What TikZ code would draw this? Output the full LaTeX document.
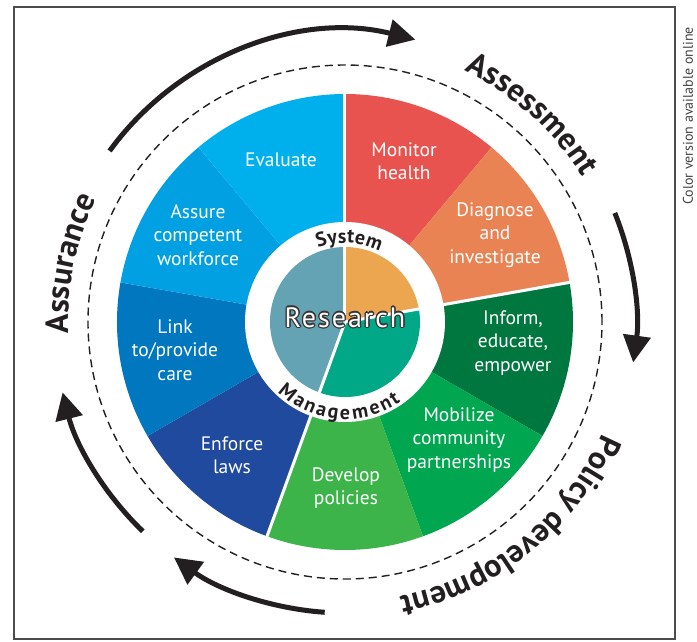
\documentclass[tikz,border=0pt]{standalone}
\usepackage{fontspec}
\setmainfont{PT Sans}
\usepackage{xcolor}
\usepackage{tikz}
\usepackage{contour}
\usetikzlibrary{arrows.meta}
\usetikzlibrary{decorations.text}

\contourlength{1.2pt}
\definecolor{monitorred}{HTML}{E8534F}
\definecolor{diagorange}{HTML}{EA8354}
\definecolor{informgreen}{HTML}{00773F}
\definecolor{mobilgreen}{HTML}{00A650}
\definecolor{devgreen}{HTML}{3CB44A}
\definecolor{enforceblue}{HTML}{1F4A9D}
\definecolor{linkblue}{HTML}{0077BF}
\definecolor{assureblue}{HTML}{00A0E2}
\definecolor{evalblue}{HTML}{00B0EC}
\definecolor{innerorange}{HTML}{ECA650}
\definecolor{innerteal}{HTML}{00A887}
\definecolor{innerslate}{HTML}{63A3B3}
\definecolor{inkblack}{HTML}{231F20}

\newcommand{\labelfont}{\fontsize{19.5}{23.5}\selectfont}
\newcommand{\arcfont}{\bfseries\fontsize{32}{32}\selectfont}
\newcommand{\ringfont}{\bfseries\fontsize{20}{20}\selectfont}

\begin{document}
\begin{tikzpicture}[x=1pt,y=1pt,
    seglabel/.style={text=white, align=center, font=\labelfont, inner sep=0pt},
    cycarrow/.style={inkblack, line width=5pt, -{Triangle[length=27pt,width=27pt]}},
    arctext/.style={decorate, decoration={text along path, text align=center, text color=inkblack, text={#1}}},
    ringtext/.style={decorate, decoration={text effects along path, text={#1}, text effects/.cd, text along path, fit text to path, characters={text=inkblack, font=\ringfont}}}
    ]
    \useasboundingbox (-345,-319) rectangle (352,322);

    % frame
    \draw[gray!60!black, line width=1.2pt] (-331,315) rectangle (330,-317);

    % wedges
    \foreach \a/\col in {50/monitorred,10/diagorange,-30/informgreen,-70/mobilgreen,-110/devgreen,-150/enforceblue,170/linkblue,130/assureblue,90/evalblue}
        \fill[\col] (0,0) -- (\a:228pt) arc[start angle=\a, delta angle=40, radius=228pt] -- cycle;

    % inner pie
    \fill[white] (0,0) circle[radius=100pt];
    \fill[innerorange] (0,0) -- (10:75pt) arc[start angle=10, end angle=90, radius=75pt] -- cycle;
    \fill[innerteal] (0,0) -- (-110:75pt) arc[start angle=-110, end angle=10, radius=75pt] -- cycle;
    \fill[innerslate] (0,0) -- (90:75pt) arc[start angle=90, end angle=250, radius=75pt] -- cycle;

    % white cuts
    \foreach \a in {90,10,-110}
        \draw[white, line width=3pt] (0,0) -- (\a:230pt);

    % dashed ring
    \draw[inkblack, line width=1.4pt, dash pattern=on 8pt off 5pt] (0,0) circle[radius=257pt];

    % cycle arrows
    \draw[cycarrow] (144:291pt) arc[start angle=144, end angle=76, radius=291pt];
    \draw[cycarrow] (22:291pt) arc[start angle=22, end angle=-8, radius=291pt];
    \draw[cycarrow] (-94:291pt) arc[start angle=-94, end angle=-126, radius=291pt];
    \draw[cycarrow] (226:291pt) arc[start angle=226, end angle=194, radius=291pt];

    % phase names
    \path[arctext={|\arcfont|Assessment}] (72:278pt) arc[start angle=72, end angle=24, radius=278pt];
    \path[arctext={|\arcfont|Assurance}] (192:277pt) arc[start angle=192, end angle=144, radius=277pt];
    \path[arctext={|\arcfont|Policy development}] (-5:280pt) arc[start angle=-5, end angle=-97, radius=280pt];

    % ring words
    \path[ringtext={System}] (110:79pt) arc[start angle=110, end angle=64, radius=79pt];
    \path[ringtext={Management}] (-134:97pt) arc[start angle=-134, end angle=-55, radius=97pt];

    % centre
    \node[inner sep=0pt, font=\fontsize{28}{28}\selectfont\addfontfeature{LetterSpace=7}] (research) at (0,4) {\contour{inkblack!90}{\textcolor{white}{Research}}};

    % wedge labels
    \node[seglabel] (evaluate) at (-64,162) {Evaluate};
    \node[seglabel] (monitor) at (59,161) {Monitor\\health};
    \node[seglabel] (diagnose) at (150,87) {Diagnose\\and\\investigate};
    \node[seglabel] (inform) at (168,-21) {Inform,\\educate,\\empower};
    \node[seglabel] (mobilize) at (114,-118) {Mobilize\\community\\partnerships};
    \node[seglabel] (develop) at (1,-166) {Develop\\policies};
    \node[seglabel] (enforce) at (-113,-133) {Enforce\\laws};
    \node[seglabel] (link) at (-170,-28) {Link\\to/provide\\care};
    \node[seglabel] (assure) at (-147,87) {Assure\\competent\\workforce};

    % side note
    \node[rotate=90, inner sep=0pt, text=inkblack!85, font=\fontsize{14}{14}\selectfont] (colornote) at (343,206) {Color version available online};
\end{tikzpicture}
\end{document}
